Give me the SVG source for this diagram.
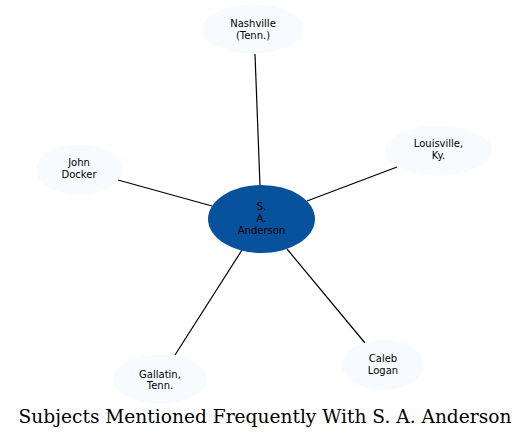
<svg xmlns="http://www.w3.org/2000/svg" width="529" height="439" viewBox="0 0 529 439">
<style>
.n ellipse{fill:#f7fbff;stroke:none}
.n text{font-family:"DejaVu Sans",sans-serif;font-size:10px;fill:#000;text-anchor:middle}
.e line{stroke:#000;stroke-width:1.2}
.t{font-family:"DejaVu Serif",serif;font-size:18.6px;fill:#000;text-anchor:middle}
</style>
<rect width="529" height="439" fill="#fff"/>
<g class="e" id="edges">
<line x1="255" y1="54" x2="260" y2="186"/>
<line x1="118" y1="180" x2="212" y2="206"/>
<line x1="397" y1="167" x2="307" y2="201"/>
<line x1="175" y1="355" x2="242" y2="250"/>
<line x1="365" y1="343" x2="287" y2="249"/>
</g>
<g class="n" id="n-anderson"><ellipse cx="261.5" cy="219" rx="53.5" ry="34" style="fill:#08519c"/><text x="261.5" y="210">S.</text><text x="261.5" y="222">A.</text><text x="261.5" y="234">Anderson</text></g>
<g class="n" id="n-nashville"><ellipse cx="253" cy="29" rx="51" ry="24.5"/><text x="253" y="27">Nashville</text><text x="253" y="38.5">(Tenn.)</text></g>
<g class="n" id="n-docker"><ellipse cx="79" cy="169.5" rx="43" ry="25"/><text x="79" y="166">John</text><text x="79" y="177.5">Docker</text></g>
<g class="n" id="n-louisville"><ellipse cx="438.5" cy="150.5" rx="53.5" ry="24.5"/><text x="438.5" y="147">Louisville,</text><text x="438.5" y="158.5">Ky.</text></g>
<g class="n" id="n-gallatin"><ellipse cx="160" cy="379" rx="47" ry="24.5"/><text x="160" y="377.5">Gallatin,</text><text x="160" y="389">Tenn.</text></g>
<g class="n" id="n-logan"><ellipse cx="383" cy="365" rx="41" ry="25"/><text x="383" y="362">Caleb</text><text x="383" y="373.5">Logan</text></g>
<text class="t" x="265" y="423">Subjects Mentioned Frequently With S. A. Anderson</text>
</svg>
